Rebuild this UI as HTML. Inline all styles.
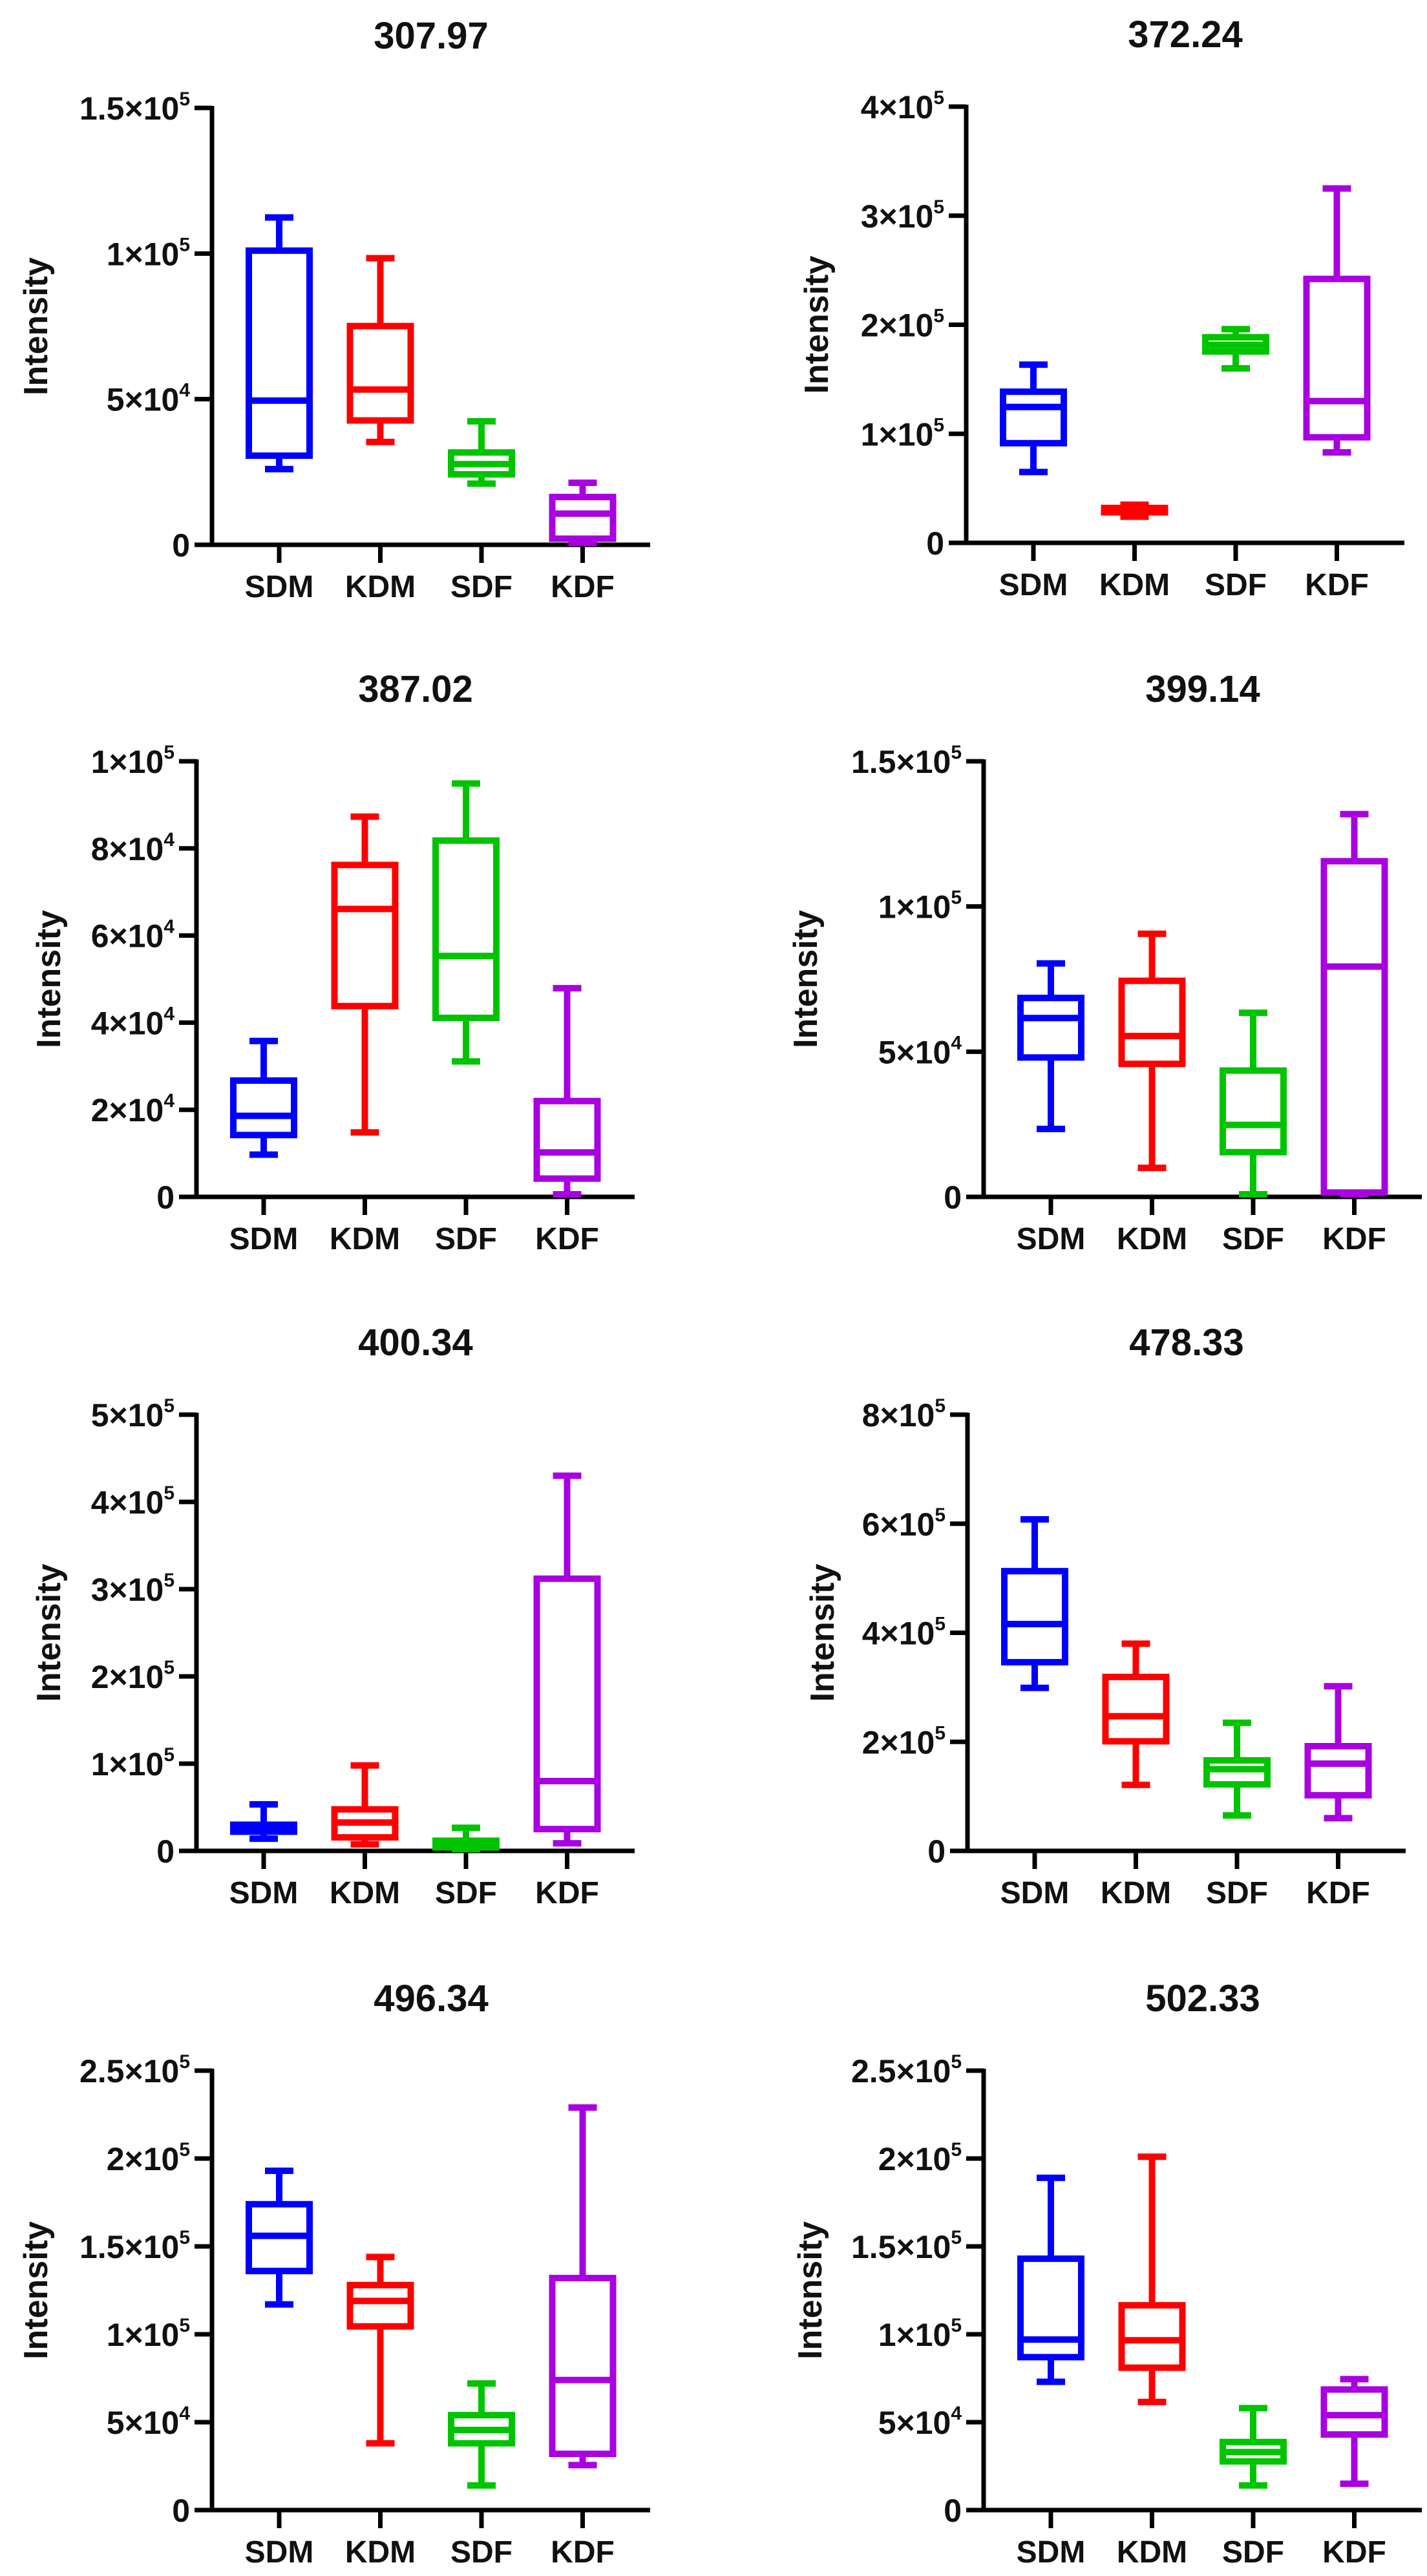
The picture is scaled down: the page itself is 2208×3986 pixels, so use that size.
<!DOCTYPE html>
<html><head><meta charset="utf-8"><style>
html,body{margin:0;padding:0;background:#fff;}
svg{display:block;font-family:"Liberation Sans",Arial,sans-serif;}
</style></head>
<body>
<svg id="fig" width="2208" height="3986" viewBox="0 0 2208 3986" xmlns="http://www.w3.org/2000/svg"></svg>
<script>
const titles = ["307.97","372.24","387.02","399.14","400.34","478.33","496.34","502.33"];
const categories = ["SDM","KDM","SDF","KDF"];
const colors = ["#0000ff","#ff0000","#00c400","#a800e0"];
const yMaxes = [1.5e5,4e5,1e5,1.5e5,5e5,8e5,2.5e5,2.5e5];
const tickSteps = [5e4,1e5,2e4,5e4,1e5,2e5,5e4,5e4];
const mins = [
 [2.6e4,3.53e4,2.1e4,0.07e4],[0.65e5,0.24e5,1.60e5,0.83e5],[0.97e4,1.48e4,3.11e4,0.06e4],[2.34e4,1.0e4,0.09e4,0.09e4],
 [0.14e5,0.076e5,0.02e5,0.087e5],[2.99e5,1.21e5,0.65e5,0.60e5],[1.17e5,0.38e5,0.14e5,0.256e5],[0.73e5,0.615e5,0.14e5,0.15e5]];
const q1s = [
 [3.06e4,4.27e4,2.42e4,0.21e4],[0.914e5,0.28e5,1.755e5,0.968e5],[1.42e4,4.38e4,4.11e4,0.42e4],[4.80e4,4.58e4,1.54e4,0.15e4],
 [0.22e5,0.155e5,0.04e5,0.25e5],[3.46e5,2.01e5,1.22e5,1.02e5],[1.36e5,1.045e5,0.38e5,0.32e5],[0.87e5,0.81e5,0.277e5,0.43e5]];
const medians = [
 [4.95e4,5.33e4,2.77e4,1.07e4],[1.246e5,0.30e5,1.815e5,1.30e5],[1.86e4,6.61e4,5.53e4,1.02e4],[6.16e4,5.54e4,2.48e4,7.93e4],
 [0.265e5,0.325e5,0.08e5,0.80e5],[4.16e5,2.47e5,1.50e5,1.60e5],[1.56e5,1.19e5,0.456e5,0.74e5],[0.97e5,0.966e5,0.33e5,0.54e5]];
const q3s = [
 [10.1e4,7.51e4,3.17e4,1.64e4],[1.386e5,0.32e5,1.885e5,2.42e5],[2.67e4,7.62e4,8.18e4,2.2e4],[6.85e4,7.44e4,4.35e4,11.56e4],
 [0.30e5,0.476e5,0.117e5,3.12e5],[5.13e5,3.19e5,1.66e5,1.92e5],[1.74e5,1.28e5,0.54e5,1.32e5],[1.43e5,1.165e5,0.387e5,0.686e5]];
const maxs = [
 [11.24e4,9.84e4,4.24e4,2.13e4],[1.634e5,0.35e5,1.96e5,3.25e5],[3.58e4,8.73e4,9.49e4,4.79e4],[8.04e4,9.06e4,6.34e4,13.18e4],
 [0.533e5,0.98e5,0.265e5,4.30e5],[6.08e5,3.80e5,2.35e5,3.02e5],[1.93e5,1.44e5,0.72e5,2.29e5],[1.89e5,2.01e5,0.58e5,0.745e5]];

const layout = [
 {ax:328,top:167,zero:843,lab:55},{ax:1495,top:165,zero:840,lab:1263},
 {ax:304,top:1178,zero:1852,lab:75},{ax:1522,top:1178,zero:1852,lab:1246},
 {ax:304,top:2189,zero:2864,lab:75},{ax:1497,top:2189,zero:2864,lab:1272},
 {ax:328,top:3204,zero:3884,lab:55},{ax:1522,top:3204,zero:3884,lab:1253}];

const NS="http://www.w3.org/2000/svg";
const svg=document.getElementById('fig');
function mk(tag,attrs,parent){const e=document.createElementNS(NS,tag);for(const k in attrs)e.setAttribute(k,attrs[k]);(parent||svg).appendChild(e);return e;}

function fmtTick(v){
  if(v===0) return ["0",""];
  const e=Math.floor(Math.log10(v)+1e-9);
  let m=v/Math.pow(10,e); m=Math.round(m*10)/10;
  return [String(m)+"×10",String(e)];
}

titles.forEach((t,p)=>{
  const L=layout[p];
  const g=mk('g',{});
  
  
  const xEnd=L.ax+678;
  const yScale=v=>L.zero-(v/yMaxes[p])*(L.zero-L.top);
  const xPos=i=>L.ax+104+i*156.5;
  const cx=(L.ax+xEnd)/2;
  const tt=mk('text',{x:cx,y:L.top-92,'text-anchor':'middle','font-size':58,'font-weight':'bold',fill:'#111'},g);
  tt.textContent=t;
  
  
  const yl=mk('text',{x:0,y:0,'text-anchor':'middle','font-size':52,'font-weight':'bold',fill:'#111',transform:`translate(${L.lab+18},${(L.top+L.zero)/2}) rotate(-90)`},g);
  yl.textContent="Intensity";
  
  
  const ya=mk('line',{x1:L.ax,y1:L.top-3,x2:L.ax,y2:L.zero+3,stroke:'#000','stroke-width':7},g);
  
  
  const xa=mk('line',{x1:L.ax-27,y1:L.zero,x2:xEnd,y2:L.zero,stroke:'#000','stroke-width':7},g);
  
  
  for(let v=0; v<=yMaxes[p]+1e-6; v+=tickSteps[p]){
    const y=yScale(v);
    mk('line',{x1:L.ax-27,y1:y,x2:L.ax,y2:y,stroke:'#000','stroke-width':7},g);
    const [main,exp]=fmtTick(v);
    const tx=mk('text',{x:L.ax-34,y:y+18,'text-anchor':'end','font-size':50,'font-weight':'bold',fill:'#111'},g);
    
    
    const a=mk('tspan',{},tx); a.textContent=main;
    if(exp){const b=mk('tspan',{dy:-22,'font-size':30},tx); b.textContent=exp;}
  }
  categories.forEach((c,i)=>{
    const x=xPos(i);
    mk('line',{x1:x,y1:L.zero,x2:x,y2:L.zero+28,stroke:'#000','stroke-width':7},g);
    const ct=mk('text',{x:x,y:L.zero+81,'text-anchor':'middle','font-size':48,'font-weight':'bold',fill:'#111'},g);
    ct.textContent=c;
    
    
    const col=colors[i];
    const bg=mk('g',{stroke:col,'stroke-width':10,fill:'none'},g);
    
    
    const yMin=yScale(mins[p][i]),yQ1=yScale(q1s[p][i]),yMed=yScale(medians[p][i]),yQ3=yScale(q3s[p][i]),yMax=yScale(maxs[p][i]);
    mk('line',{x1:x,y1:yMax,x2:x,y2:yQ3},bg);
    mk('line',{x1:x,y1:yQ1,x2:x,y2:yMin},bg);
    mk('line',{x1:x-22,y1:yMax,x2:x+22,y2:yMax},bg);
    mk('line',{x1:x-22,y1:yMin,x2:x+22,y2:yMin},bg);
    mk('rect',{x:x-47,y:yQ3,width:94,height:Math.max(0,yQ1-yQ3)},bg);
    mk('line',{x1:x-47,y1:yMed,x2:x+47,y2:yMed},bg);
  });
});
</script>
</body></html>
